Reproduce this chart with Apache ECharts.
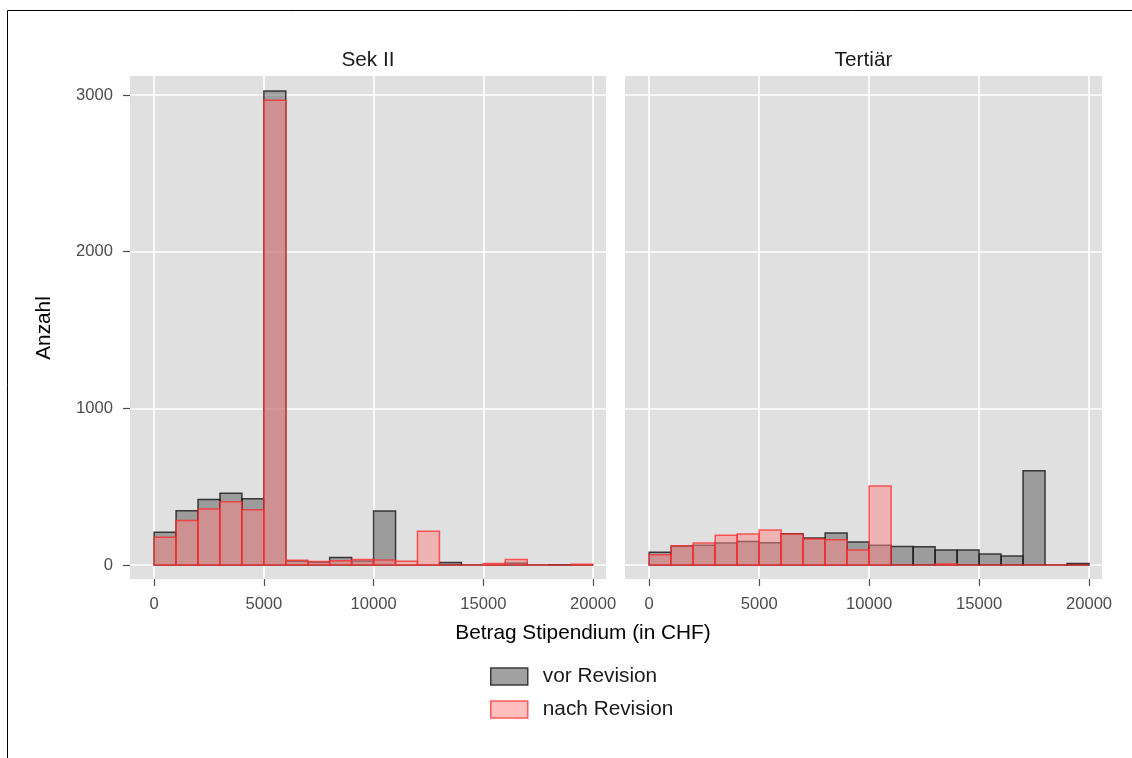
<!DOCTYPE html>
<html>
<head>
<meta charset="utf-8">
<script src="https://cdn.jsdelivr.net/npm/echarts@6/dist/echarts.min.js"></script>
<style>
html,body{margin:0;padding:0;background:#fff;}
#chart{width:1132px;height:758px;}
</style>
</head>
<body>
<div id="chart"></div>
<script>
// ---- data ----
const binEdges = [0,1000,2000,3000,4000,5000,6000,7000,8000,9000,10000,11000,12000,13000,14000,15000,16000,17000,18000,19000,20000];
const facets = ['Sek II', 'Tertiär'];
const seriesNames = ['vor Revision', 'nach Revision'];
const sekVor   = [209, 347, 419, 459, 423, 3025, 24, 18, 49, 26, 345, 0, 0, 17, 0, 0, 13, 0, 2, 0];
const sekNach  = [177, 285, 357, 404, 353, 2966, 30, 23, 28, 36, 32, 24, 215, 0, 0, 10, 36, 0, 0, 5];
const terVor   = [81, 120, 126, 140, 151, 142, 200, 172, 204, 147, 126, 119, 117, 96, 96, 70, 57, 602, 0, 10];
const terNach  = [66, 123, 140, 190, 198, 223, 198, 166, 161, 96, 504, 0, 0, 7, 0, 0, 0, 0, 0, 0];
const xTicks = [0, 5000, 10000, 15000, 20000];
const yTicks = [0, 1000, 2000, 3000];

// ---- build ----
function toBins(vals){ return vals.map((v,i)=>[binEdges[i], binEdges[i+1], v]); }

const greyFill = 'rgba(0,0,0,0.30)';
const greyStroke = 'rgba(30,30,30,0.85)';
const redFill = 'rgba(255,134,134,0.5)';
const redStroke = 'rgba(255,40,40,0.75)';

function makeRender(fill, stroke){
  return function(params, api){
    const x0 = api.value(0), x1 = api.value(1), v = api.value(2);
    const p0 = api.coord([x0, 0]);
    const p1 = api.coord([x1, v]);
    return {
      type: 'rect',
      shape: {x: p0[0], y: p1[1], width: p1[0]-p0[0], height: p0[1]-p1[1]},
      style: {fill: fill, stroke: stroke, lineWidth: 1.5}
    };
  };
}

const tickColor = '#4d4d4d';
const fontFam = '"Liberation Sans", Arial, sans-serif';
const plain = v => String(v);

function xAxisDef(gi){
  return {
    type: 'value', gridIndex: gi, min: -1100, max: 20590,
    axisLine: {show: false, onZero: false},
    axisTick: {show: true, length: 7, lineStyle: {color: tickColor, width: 1.2}, customValues: xTicks},
    axisLabel: {color: tickColor, fontSize: 16.6, fontFamily: fontFam, margin: 17, customValues: xTicks, formatter: plain},
    splitLine: {show: true, lineStyle: {color: '#ffffff', width: 1.6}}
  };
}
function yAxisDef(gi, showLabels){
  return {
    type: 'value', gridIndex: gi, min: -89, max: 3121,
    axisLine: {show: false, onZero: false},
    axisTick: {show: showLabels, length: 7, lineStyle: {color: tickColor, width: 1.2}, customValues: yTicks},
    axisLabel: {show: showLabels, color: tickColor, fontSize: 16.6, fontFamily: fontFam, margin: 17, customValues: yTicks, formatter: plain},
    splitLine: {show: true, lineStyle: {color: '#ffffff', width: 1.6}}
  };
}

const option = {
  animation: false,
  backgroundColor: '#ffffff',
  textStyle: {fontFamily: fontFam},
  grid: [
    {left: 130, top: 76, width: 476, height: 503, show: true, backgroundColor: '#e0e0e0', borderWidth: 0},
    {left: 625, top: 76, width: 477, height: 503, show: true, backgroundColor: '#e0e0e0', borderWidth: 0}
  ],
  xAxis: [xAxisDef(0), xAxisDef(1)],
  yAxis: [yAxisDef(0, true), yAxisDef(1, false)],
  legend: {
    orient: 'vertical', left: 485, top: 661,
    itemWidth: 37, itemHeight: 17, itemGap: 12,
    textStyle: {fontSize: 20.8, color: '#1a1a1a', fontFamily: fontFam, padding: [0,0,0,10]},
    data: [
      {name: seriesNames[0], icon: 'rect', itemStyle: {color: '#a1a1a1', borderColor: '#3a3a3a', borderWidth: 1.5}},
      {name: seriesNames[1], icon: 'rect', itemStyle: {color: '#ffbfbf', borderColor: '#ff5a5a', borderWidth: 1.5}}
    ],
    selectedMode: false
  },
  series: [
    {type: 'custom', name: seriesNames[0], xAxisIndex: 0, yAxisIndex: 0, renderItem: makeRender(greyFill, greyStroke), encode: {x: [0,1], y: 2}, data: toBins(sekVor), clip: true, itemStyle: {color: '#a1a1a1'}},
    {type: 'custom', name: seriesNames[1], xAxisIndex: 0, yAxisIndex: 0, renderItem: makeRender(redFill, redStroke), encode: {x: [0,1], y: 2}, data: toBins(sekNach), clip: true, itemStyle: {color: '#ffbfbf'}},
    {type: 'custom', name: seriesNames[0], xAxisIndex: 1, yAxisIndex: 1, renderItem: makeRender(greyFill, greyStroke), encode: {x: [0,1], y: 2}, data: toBins(terVor), clip: true, itemStyle: {color: '#a1a1a1'}},
    {type: 'custom', name: seriesNames[1], xAxisIndex: 1, yAxisIndex: 1, renderItem: makeRender(redFill, redStroke), encode: {x: [0,1], y: 2}, data: toBins(terNach), clip: true, itemStyle: {color: '#ffbfbf'}}
  ],
  graphic: [
    {type: 'rect', shape: {x: 7.5, y: 10.5, width: 1300, height: 900}, style: {fill: 'none', stroke: '#000', lineWidth: 1}, silent: true},
    {type: 'text', x: 368, y: 60, style: {text: facets[0], fill: '#1a1a1a', font: '20.8px "Liberation Sans", Arial, sans-serif', textAlign: 'center', textVerticalAlign: 'middle'}},
    {type: 'text', x: 863.5, y: 60, style: {text: facets[1], fill: '#1a1a1a', font: '20.8px "Liberation Sans", Arial, sans-serif', textAlign: 'center', textVerticalAlign: 'middle'}},
    {type: 'text', x: 583, y: 633, style: {text: 'Betrag Stipendium (in CHF)', fill: '#000', font: '20.8px "Liberation Sans", Arial, sans-serif', textAlign: 'center', textVerticalAlign: 'middle'}},
    {type: 'text', x: 44, y: 328, rotation: Math.PI/2, style: {text: 'Anzahl', fill: '#000', font: '20.8px "Liberation Sans", Arial, sans-serif', textAlign: 'center', textVerticalAlign: 'middle'}}
  ]
};

const chart = echarts.init(document.getElementById('chart'), null, {renderer: 'canvas'});
chart.setOption(option);
</script>
</body>
</html>
